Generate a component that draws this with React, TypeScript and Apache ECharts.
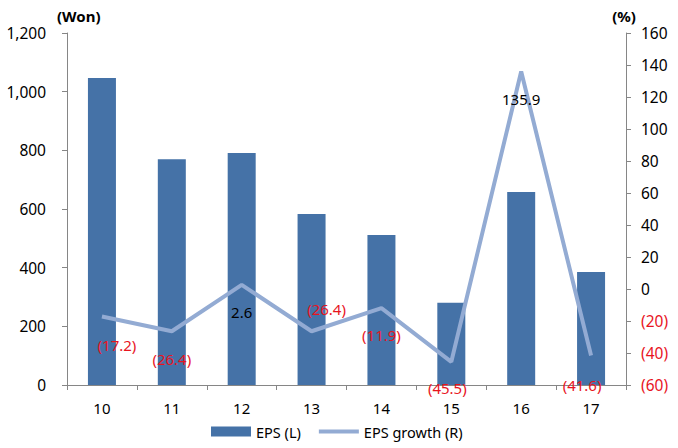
import React, { useEffect, useRef } from "react";
import * as echarts from "echarts";

const categories = ["10", "11", "12", "13", "14", "15", "16", "17"];
const epsValues = [1047, 770, 791, 583, 511, 280, 658, 385];
const growthValues = [-17.2, -26.4, 2.6, -26.4, -11.9, -45.5, 135.9, -41.6];
const labelOffsets: [number, number][] = [
  [15, 28], [0, 28], [0, 27], [15, -22], [0, 27], [-4, 26], [0, 27], [-9, 29],
];

const FONT = "Noto Sans";

const fmtPct = (v: number) => (v < 0 ? `(${Math.abs(v).toFixed(1)})` : `${v}`);

export default function App() {
  const ref = useRef<HTMLDivElement>(null);
  useEffect(() => {
    if (!ref.current) return;
    const chart = echarts.init(ref.current, undefined, { renderer: "svg" });
    chart.setOption({
      animation: false,
      textStyle: { fontFamily: FONT },
      grid: { left: 67, right: 52, top: 33, bottom: 63 },
      legend: {
        bottom: 4,
        left: 206,
        itemWidth: 40,
        itemHeight: 10,
        itemGap: 18,
        textStyle: { fontFamily: FONT, fontSize: 14.5, color: "#000" },
        data: [
          { name: "EPS (L)", icon: "rect" },
          { name: "EPS growth (R)", icon: "path://M0,0 L40,0 L40,4 L0,4 Z" },
        ],
      },
      xAxis: {
        type: "category",
        data: categories,
        axisLine: { lineStyle: { color: "#868686" } },
        axisTick: { show: true, length: 5, lineStyle: { color: "#868686" } },
        axisLabel: { color: "#000", fontSize: 15, margin: 15, fontFamily: FONT },
      },
      yAxis: [
        {
          type: "value",
          min: 0,
          max: 1200,
          interval: 200,
          name: "(Won)",
          nameLocation: "end",
          nameGap: 10,
          nameTextStyle: { fontWeight: "bold", fontSize: 15, color: "#000", align: "left", padding: [0, 0, 0, -10] },
          axisLine: { show: true, lineStyle: { color: "#868686" } },
          axisTick: { show: true, length: 5, lineStyle: { color: "#868686" } },
          splitLine: { show: false },
          axisLabel: {
            color: "#000",
            fontSize: 15.5,
            margin: 21,
            fontFamily: FONT,
            formatter: (v: number) => v.toLocaleString("en-US"),
          },
        },
        {
          type: "value",
          min: -60,
          max: 160,
          interval: 20,
          name: "(%)",
          nameLocation: "end",
          nameGap: 10,
          nameTextStyle: { fontWeight: "bold", fontSize: 15, color: "#000", align: "center", padding: [0, 0, 0, -4] },
          axisLine: { show: true, lineStyle: { color: "#868686" } },
          axisTick: { show: true, length: 5, lineStyle: { color: "#868686" } },
          splitLine: { show: false },
          axisLabel: {
            fontSize: 15.5,
            margin: 15,
            fontFamily: FONT,
            formatter: (v: number) => (v < 0 ? `{neg|(${Math.abs(v)})}` : `{pos|${v}}`),
            rich: {
              neg: { color: "#E8141E", fontSize: 15.5, fontFamily: FONT },
              pos: { color: "#000", fontSize: 15.5, fontFamily: FONT },
            },
          },
        },
      ],
      series: [
        {
          name: "EPS (L)",
          type: "bar",
          yAxisIndex: 0,
          data: epsValues,
          barWidth: 28,
          itemStyle: { color: "#4572A7" },
        },
        {
          name: "EPS growth (R)",
          type: "line",
          yAxisIndex: 1,
          symbol: "circle",
          symbolSize: 0,
          lineStyle: { color: "#93ABD3", width: 4 },
          itemStyle: { color: "#93ABD3" },
          z: 5,
          data: growthValues.map((v, i) => ({
            value: v,
            label: {
              show: true,
              position: "inside",
              offset: labelOffsets[i],
              formatter: () => fmtPct(v),
              color: v < 0 ? "#E8141E" : "#000",
              fontSize: 15,
              fontFamily: FONT,
            },
          })),
        },
      ],
    });
    return () => chart.dispose();
  }, []);
  return <div ref={ref} style={{ width: 678, height: 448, position: "absolute", left: 0, top: 0 }} />;
}
